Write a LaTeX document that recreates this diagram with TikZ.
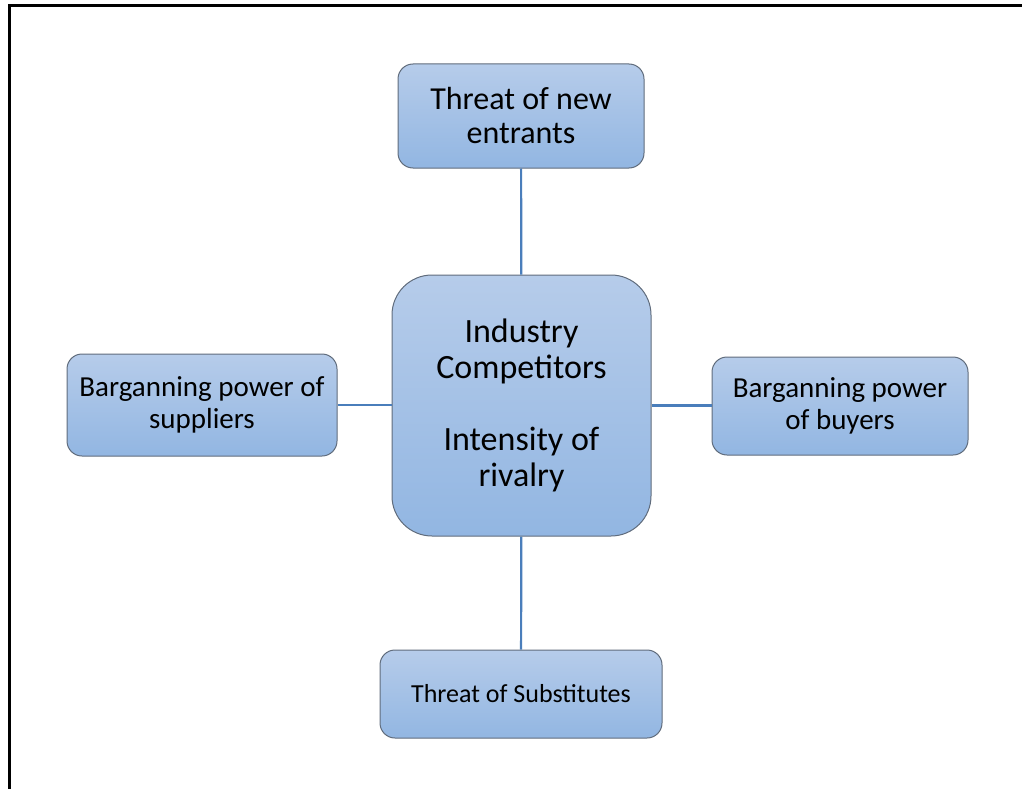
\documentclass[tikz,border=0pt]{standalone}
\usepackage{fontspec}
\setmainfont{Carlito}
\definecolor{boxtop}{RGB}{182,204,234}
\definecolor{boxbot}{RGB}{146,182,226}
\definecolor{boxline}{RGB}{96,108,124}
\definecolor{conn}{RGB}{74,126,187}
\begin{document}
\begin{tikzpicture}[x=1pt,y=-1pt,
  fbox/.style={draw=boxline, line width=1pt, top color=boxtop, bottom color=boxbot,
    rounded corners=15pt, align=center, inner sep=0pt, text=black},
  link/.style={draw=conn, line width=2.2pt}]
\useasboundingbox (0,0) rectangle (1022,789);
\draw[line width=3pt] (9,789) -- (9,6) -- (1022,6);
\node[fbox, minimum width=246pt, minimum height=104pt, font=\fontsize{32}{34}\selectfont]
  (top) at (521,116) {Threat of new\\entrants};
\node[fbox, rounded corners=40pt, minimum width=259pt, minimum height=261pt, font=\fontsize{34}{36}\selectfont]
  (mid) at (521.5,405.5) {Industry\\Competitors\\[36pt]Intensity of\\rivalry};
\node[fbox, minimum width=270pt, minimum height=102pt, font=\fontsize{29}{32}\selectfont]
  (left) at (202,405) {Barganning power of\\suppliers};
\node[fbox, minimum width=256pt, minimum height=98pt, font=\fontsize{29}{32}\selectfont]
  (right) at (840,406) {Barganning power\\of buyers};
\node[fbox, minimum width=282pt, minimum height=88pt, font=\fontsize{26}{30}\selectfont]
  (bot) at (521,694) {Threat of Substitutes};
\draw[link] (top) -- (mid);
\draw[link] (mid) -- (bot);
\draw[link] (left) -- (mid.west |- left.east);
\draw[link] (mid.east) -- (mid.east -| right.west);
\end{tikzpicture}
\end{document}
